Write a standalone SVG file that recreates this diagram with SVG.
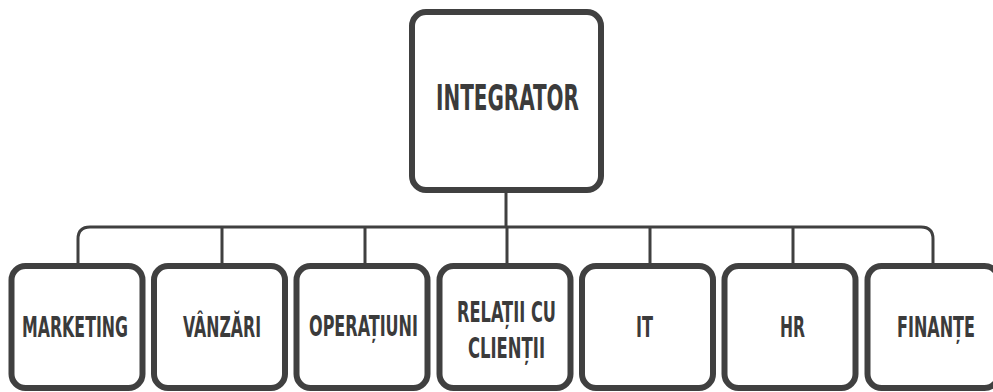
<svg xmlns="http://www.w3.org/2000/svg" width="993" height="392" viewBox="0 0 993 392">
<style>
.box{fill:#fff;stroke:#404040;stroke-width:6}
.conn{fill:none;stroke:#404040;stroke-width:3}
.lbl{font-family:"DejaVu Sans Condensed","DejaVu Sans",sans-serif;font-stretch:condensed;font-weight:bold;fill:#3b3b3b;text-anchor:middle}
.big{font-size:36px}
.sm{font-size:29px}
</style>
<rect width="993" height="392" fill="#fff"/>
<g id="connectors">
<path class="conn" d="M506,192 V227"/>
<path class="conn" d="M78,264 V239 Q78,227 90,227 H921 Q933,227 933,239 V264"/>
<path class="conn" d="M222,227 V264 M365,227 V264 M507,227 V264 M650,227 V264 M793,227 V264"/>
</g>
<g id="integrator">
<rect class="box" x="412" y="12" width="189" height="178" rx="14"/>
<text class="lbl big" x="507.5" y="110" textLength="143" lengthAdjust="spacingAndGlyphs">INTEGRATOR</text>
</g>
<g id="marketing">
<rect class="box" x="11.5" y="266" width="131" height="122" rx="14"/>
<text class="lbl sm" x="75" y="337" textLength="106" lengthAdjust="spacingAndGlyphs">MARKETING</text>
</g>
<g id="vanzari">
<rect class="box" x="154" y="266" width="131" height="122" rx="14"/>
<text class="lbl sm" x="222" y="337" textLength="78" lengthAdjust="spacingAndGlyphs">VÂNZĂRI</text>
</g>
<g id="operatiuni">
<rect class="box" x="296.5" y="266" width="131" height="122" rx="14"/>
<text class="lbl sm" x="363.5" y="336" textLength="109" lengthAdjust="spacingAndGlyphs">OPERAȚIUNI</text>
</g>
<g id="relatii">
<rect class="box" x="439.5" y="266" width="131" height="122" rx="14"/>
<text class="lbl sm" x="506.5" y="322" textLength="99" lengthAdjust="spacingAndGlyphs">RELAȚII CU</text>
<text class="lbl sm" x="506.5" y="358" textLength="77" lengthAdjust="spacingAndGlyphs">CLIENȚII</text>
</g>
<g id="it">
<rect class="box" x="582" y="266" width="131" height="122" rx="14"/>
<text class="lbl sm" x="644.5" y="337" textLength="17" lengthAdjust="spacingAndGlyphs">IT</text>
</g>
<g id="hr">
<rect class="box" x="724.5" y="266" width="131" height="122" rx="14"/>
<text class="lbl sm" x="792.5" y="337" textLength="25" lengthAdjust="spacingAndGlyphs">HR</text>
</g>
<g id="finante">
<rect class="box" x="867.5" y="266" width="131" height="122" rx="14"/>
<text class="lbl sm" x="936" y="337" textLength="78" lengthAdjust="spacingAndGlyphs">FINANȚE</text>
</g>
</svg>
